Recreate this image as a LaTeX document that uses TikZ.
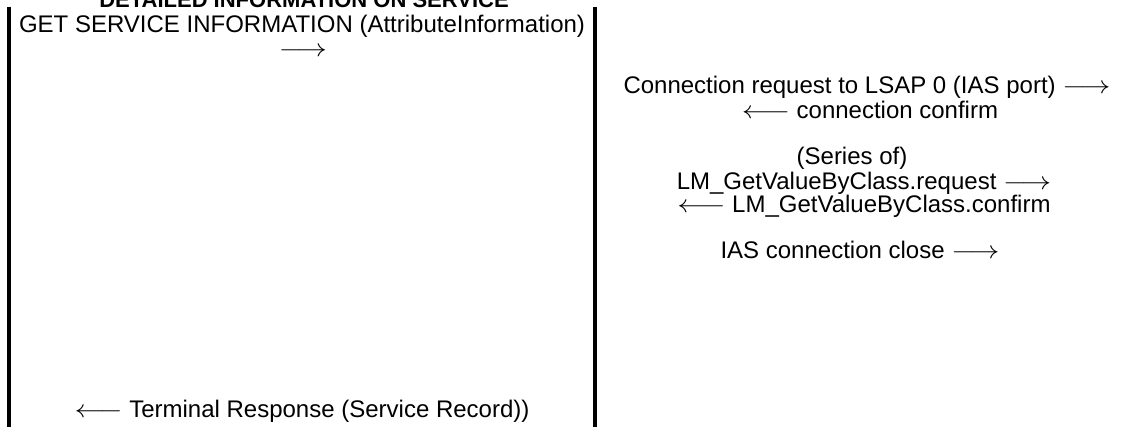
\documentclass[tikz,border=0pt]{standalone}
\usepackage{fontspec}
\setmainfont{Liberation Sans}
\usepackage{graphicx}
\newcommand{\myra}{\scalebox{1.2}[1]{$\longrightarrow$}}
\newcommand{\myla}{\scalebox{1.2}[1]{$\longleftarrow$}}
\begin{document}
\begin{tikzpicture}[x=1pt,y=-1pt,
  lbl/.style={anchor=base,inner sep=0pt,font=\fontsize{24}{24}\selectfont},
  ttl/.style={anchor=base,inner sep=0pt,font=\fontsize{22}{22}\selectfont\bfseries},
  bar/.style={line width=4pt}]
\useasboundingbox (0,0) rectangle (1136,427);
\coordinate (lt) at (9,7);
\coordinate (lb) at (9,427);
\coordinate (rt) at (595,7);
\coordinate (rb) at (595,427);
\draw[bar] (lt) -- (lb);
\draw[bar] (rt) -- (rb);
\node[ttl] (title) at (304,8) {DETAILED INFORMATION ON SERVICE};
\node[lbl] (get) at (302,32.3) {GET SERVICE INFORMATION (AttributeInformation)};
\node[lbl] (getarr) at (303,56.3) {\myra};
\node[lbl] (conreq) at (867,94) {Connection request to LSAP 0 (IAS port) \myra};
\node[lbl] (concf) at (870,119) {\myla{} connection confirm};
\node[lbl] (series) at (852,165) {(Series of)};
\node[lbl] (lmreq) at (864,190) {LM\_GetValueByClass.request \myra};
\node[lbl] (lmcf) at (864,213) {\myla{} LM\_GetValueByClass.confirm};
\node[lbl] (close) at (860,259) {IAS connection close \myra};
\node[lbl] (term) at (302,418) {\myla{} Terminal Response (Service Record))};
\end{tikzpicture}
\end{document}
